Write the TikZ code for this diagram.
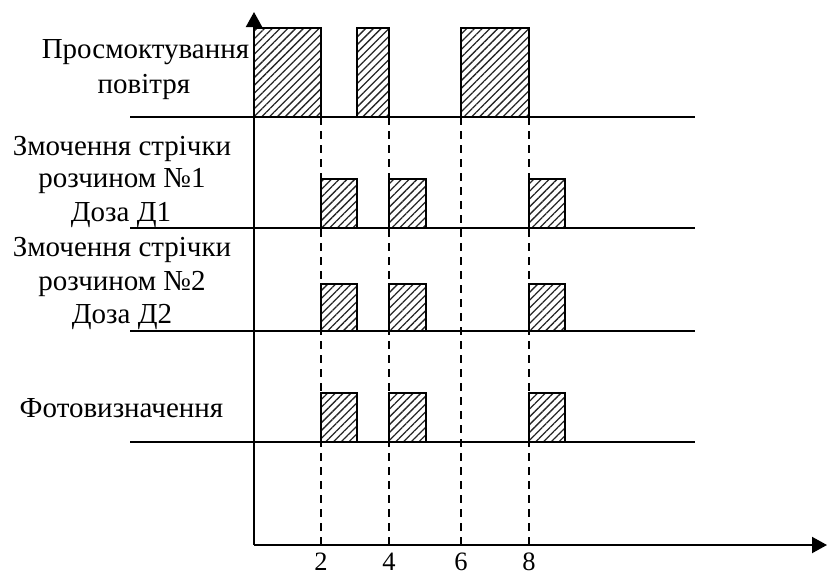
\documentclass[tikz,border=0pt]{standalone}
\usepackage{fontspec}
\setmainfont{Liberation Serif}
\usetikzlibrary{arrows.meta,patterns.meta}

\tikzset{
  axisline/.style={line width=2pt, -{Triangle[width=16pt,length=15pt]}},
  rowline/.style={line width=2pt},
  pulse/.style={draw, line width=2pt,
    pattern={Lines[angle=45,distance=5.5pt,line width=1.3pt]}, pattern color=black!85},
  guide/.style={line width=1.5pt, dash pattern=on 8pt off 6pt},
  lbl/.style={font=\fontsize{29}{34}\selectfont, anchor=base, inner sep=0pt},
  ticklbl/.style={font=\fontsize{26.5}{30}\selectfont, anchor=base, inner sep=0pt}
}

\begin{document}
\begin{tikzpicture}[x=1pt,y=-1pt]
  \useasboundingbox (0,0) rectangle (827,573);

  % axes end points
  \coordinate (O) at (254,545);
  \coordinate (ytop) at (254,12);
  \coordinate (xend) at (827,545);

  % row 1: air intake
  \draw[pulse] (254,28) rectangle (321,117);
  \draw[pulse] (357,28) rectangle (389,117);
  \draw[pulse] (461,28) rectangle (529,117);

  % row 2: tape wetting, solution 1
  \foreach \a/\b in {321/357, 389/426, 529/565}
    \draw[pulse] (\a,179) rectangle (\b,228);

  % row 3: tape wetting, solution 2
  \foreach \a/\b in {321/357, 389/426, 529/565}
    \draw[pulse] (\a,284) rectangle (\b,331);

  % row 4: photometric measurement
  \foreach \a/\b in {321/357, 389/426, 529/565}
    \draw[pulse] (\a,393) rectangle (\b,442);

  % time markers
  \foreach \x/\t in {321/2, 389/4, 461/6, 529/8} {
    \coordinate (g\t top) at (\x,117);
    \coordinate (g\t bot) at (\x,545);
    \draw[guide] (g\t top) -- (g\t bot);
    \node[ticklbl] (t\t) at (\x,570.5) {\t};
  }

  % row base lines
  \foreach \y/\n in {117/1, 228/2, 331/3, 442/4} {
    \coordinate (r\n a) at (130,\y);
    \coordinate (r\n b) at (695,\y);
    \draw[rowline] (r\n a) -- (r\n b);
  }

  % axes
  \draw[axisline] (O) -- (ytop);
  \draw[axisline] (O) -- (xend);

  % row labels
  \node[lbl] (l1a) at (145.5,58) {Просмоктування};
  \node[lbl] (l1b) at (144,93) {повітря};
  \node[lbl] (l2a) at (122,155) {Змочення стрічки};
  \node[lbl] (l2b) at (122,187) {розчином №1};
  \node[lbl] (l2c) at (121,221) {Доза Д1};
  \node[lbl] (l3a) at (122,256) {Змочення стрічки};
  \node[lbl] (l3b) at (122,290) {розчином №2};
  \node[lbl] (l3c) at (122,323) {Доза Д2};
  \node[lbl] (l4) at (121.5,417) {Фотовизначення};
\end{tikzpicture}
\end{document}
